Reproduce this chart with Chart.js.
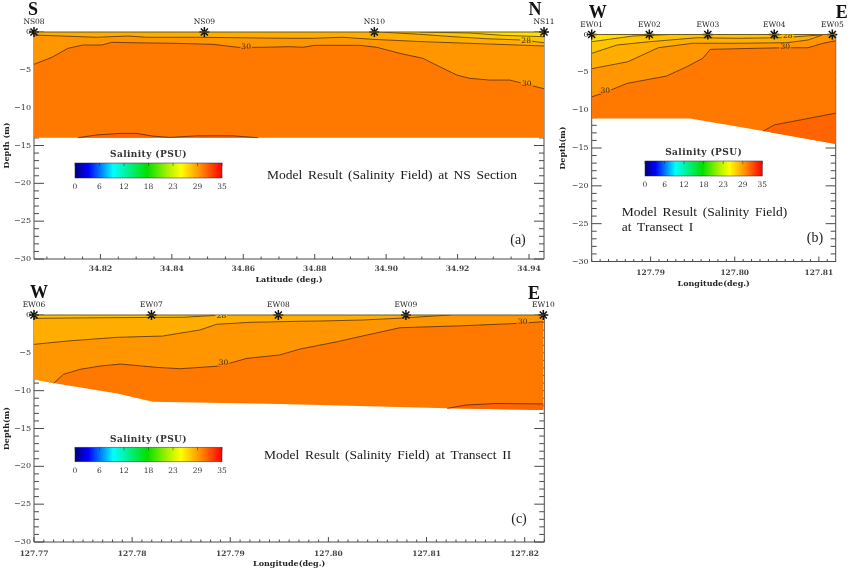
<!DOCTYPE html>
<html>
<head>
<meta charset="utf-8">
<title>Salinity sections</title>
<script src="https://cdn.jsdelivr.net/npm/chart.js@4/dist/chart.umd.min.js"></script>
<style>
    html, body { margin: 0; padding: 0; background: #fff; }
    canvas { position: absolute; }
</style>
</head>
<body>
<canvas id="panelA" width="570" height="285" style="left:0;top:0"></canvas>
<canvas id="panelB" width="296" height="290" style="left:556px;top:0"></canvas>
<canvas id="panelC" width="570" height="289" style="left:0;top:285px"></canvas>
<script>
// Colour scale
var barTicks = [0, 6, 12, 18, 23, 29, 35];

// NS section
var nsStations = ['NS08', 'NS09', 'NS10', 'NS11'];
var nsStationLat = [34.8014, 34.8491, 34.8967, 34.9442];
var nsTicks = [34.82, 34.84, 34.86, 34.88, 34.90, 34.92, 34.94];
var nsFloor = [[34.8014, -13.96], [34.9442, -13.96]];
var nsDeep = [[34.8137, -13.97], [34.8190, -13.6], [34.8255, -13.4], [34.8302, -13.4], [34.8347, -13.76], [34.8395, -13.93], [34.8470, -13.72], [34.8571, -13.72], [34.8641, -13.97]];
var ns30 = [[34.8014, -4.27], [34.8064, -3.35], [34.8109, -2.16], [34.8151, -1.72], [34.8204, -1.72], [34.8232, -1.36], [34.8291, -1.42], [34.8403, -1.49], [34.8515, -1.63], [34.8585, -2.02], [34.8655, -2.02], [34.8730, -1.94], [34.8767, -2.02], [34.8800, -1.76], [34.8926, -1.76], [34.8974, -2.02], [34.9038, -2.82], [34.9103, -3.48], [34.9150, -4.59], [34.9198, -5.69], [34.9234, -6.12], [34.9290, -6.35], [34.9346, -6.35], [34.9383, -6.79], [34.9442, -7.5]];
var nsUpper = [[34.8014, -0.4], [34.8190, -0.7], [34.8277, -0.53], [34.8330, -0.7], [34.8478, -0.7], [34.8722, -0.83], [34.8795, -0.83], [34.8879, -0.7], [34.8963, -0.97], [34.9103, -1.28], [34.9290, -1.59], [34.9442, -1.85]];
var ns28 = [[34.8982, 0], [34.9094, -0.3], [34.9187, -0.62], [34.9282, -0.89], [34.9382, -1.06], [34.9442, -1.42]];
var ns26 = [[34.9094, 0], [34.9234, -0.13], [34.9326, -0.44], [34.9442, -0.62]];
var nsLabels = [[34.8608, -1.95, '30'], [34.9394, -6.9, '30'], [34.9392, -1.15, '28']];

// Transect I
var ew1Stations = ['EW01', 'EW02', 'EW03', 'EW04', 'EW05'];
var ew1StationLon = [127.7830, 127.78985, 127.7968, 127.8047, 127.8116];
var ew1Ticks = [127.79, 127.80, 127.81];
var ew1Floor = [[127.7830, -11.09], [127.7947, -11.09], [127.8034, -12.76], [127.8120, -14.48]];
var ew1Deep = [[127.8034, -12.76], [127.8047, -11.95], [127.8120, -10.4]];
var ew130 = [[127.7830, -8.23], [127.7843, -7.78], [127.7872, -6.46], [127.7919, -5.49], [127.7943, -4.26], [127.7962, -3.15], [127.7971, -1.96], [127.8003, -1.88], [127.8057, -1.75], [127.8087, -1.75], [127.8105, -1.16], [127.8120, -0.82]];
var ew1Mid = [[127.7830, -4.52], [127.7873, -3.6], [127.7909, -1.75], [127.7950, -1.16], [127.8003, -1.16], [127.8062, -1.08], [127.8087, -0.73], [127.8104, -0.07]];
var ew1Upper = [[127.7830, -2.49], [127.7860, -1.39], [127.7899, -0.95], [127.7956, -0.42], [127.8003, -0.5], [127.8057, -0.42], [127.8101, -0.07]];
var ew1Top = [[127.7830, -0.95], [127.7879, -0.2], [127.7923, 0]];
var ew1Labels = [[127.7846, -7.45, '30'], [127.8060, -1.7, '30'], [127.8063, -0.2, '28']];

// Transect II
var ew2Stations = ['EW06', 'EW07', 'EW08', 'EW09', 'EW10'];
var ew2StationLon = [127.7700, 127.78197, 127.7949, 127.8079, 127.8219];
var ew2Ticks = [127.77, 127.78, 127.79, 127.80, 127.81, 127.82];
var ew2Floor = [[127.7700, -8.5], [127.7721, -9.03], [127.7785, -10.36], [127.7821, -11.47], [127.7951, -11.77], [127.8121, -12.34], [127.8219, -12.57]];
var ew2Deep = [[127.8121, -12.34], [127.8140, -11.9], [127.8170, -11.7], [127.8219, -11.75]];
var ew230 = [[127.7720, -9.03], [127.7730, -7.84], [127.7747, -7.18], [127.7767, -6.75], [127.7788, -6.48], [127.7825, -6.92], [127.7849, -7.1], [127.7889, -6.75], [127.7917, -5.73], [127.7950, -5.29], [127.7971, -4.5], [127.8009, -3.53], [127.8039, -2.65], [127.8073, -1.68], [127.8137, -1.42], [127.8195, -1.1], [127.8219, -0.89]];
var ew2Mid = [[127.7700, -3.88], [127.7734, -3.44], [127.7785, -2.95], [127.7831, -2.78], [127.7869, -1.98], [127.7886, -1.23], [127.7920, -0.97], [127.7971, -0.83], [127.7994, -0.79], [127.8035, -0.66], [127.8070, -0.44], [127.8124, 0]];
var ew2Upper = [[127.7700, -0.44], [127.7767, -0.36], [127.7852, -0.3], [127.7892, 0]];
var ew2Labels = [[127.7893, -6.4, '30'], [127.8198, -0.89, '30'], [127.7891, -0.1, '28']];

var SERIF = '"DejaVu Serif", serif';
var TEXT_SERIF = '"Liberation Serif", serif';
var AXIS_COLOR = '#4a4a4a';
var LINE_COLOR = 'rgba(50, 30, 0, 0.85)';
var RAMP = [[0, '#00007f'], [0.09, '#0000ff'], [0.26, '#00ffff'], [0.49, '#00e000'], [0.62, '#a0f000'], [0.72, '#ffff00'], [0.85, '#ff9000'], [1, '#ff0000']];
var DEEP = '#ff7800', MID = '#ff9600', AMBER = '#ffae00', GOLD = '#ffc400', YELLOW = '#ffe000', DARK = '#ff6400';
var LABEL_PATCH = { '30': [MID, DEEP], '28': [GOLD, AMBER] };

function pts(list) {
    return list.map(function (p) { return { x: p[0], y: p[1] }; });
}

function contour(list, color) {
    return { data: pts(list), borderColor: LINE_COLOR, borderWidth: 0.8, backgroundColor: color || 'transparent', fill: color ? { value: 0 } : false, pointRadius: 0 };
}

function shape(list, color) {
    return { data: pts(list), borderWidth: 0, borderColor: color, backgroundColor: color, fill: 'shape', pointRadius: 0 };
}

function text(ctx, str, x, y, font, color, align) {
    ctx.font = font;
    ctx.fillStyle = color || '#222';
    ctx.textAlign = align || 'center';
    ctx.textBaseline = 'middle';
    ctx.fillText(str, x, y);
}

var panelPlugin = {
    id: 'panelPlugin',
    beforeDatasetsDraw: function (chart, args, o) {
        var ctx = chart.ctx, a = chart.chartArea, xs = chart.scales.x, ys = chart.scales.y, v, p, len;
        ctx.save();
        ctx.strokeStyle = AXIS_COLOR;
        ctx.lineWidth = 1;
        ctx.beginPath();
        ctx.moveTo(a.left, a.top);
        ctx.lineTo(a.left, a.bottom);
        ctx.lineTo(a.right, a.bottom);
        ctx.lineTo(a.right, a.top);
        // minor and major ticks point into the plot
        for (v = 0; v >= -30; v--) {
            p = ys.getPixelForValue(v);
            len = v % 5 === 0 ? 10 : 5;
            ctx.moveTo(a.left, p);
            ctx.lineTo(a.left + len, p);
            ctx.moveTo(a.right, p);
            ctx.lineTo(a.right - len, p);
        }
        var first = o.xTicks[0], n = Math.round(o.xMajor / o.xMinor);
        for (var i = -n; ; i++) {
            v = first + i * o.xMinor;
            if (v > xs.max) break;
            if (v < xs.min) continue;
            p = xs.getPixelForValue(v);
            len = (i + n * 10) % n === 0 ? 5 : 2.5;
            ctx.moveTo(p, a.bottom);
            ctx.lineTo(p, a.bottom - len);
        }
        ctx.stroke();
        ctx.restore();
    },
    afterDatasetsDraw: function (chart, args, o) {
        var ctx = chart.ctx, a = chart.chartArea, xs = chart.scales.x, ys = chart.scales.y;
        ctx.save();
        ctx.strokeStyle = '#6a5a20';
        ctx.lineWidth = 1;
        ctx.beginPath();
        ctx.moveTo(a.left, a.top);
        ctx.lineTo(a.right, a.top);
        ctx.stroke();

        // contour labels break the line, and get cut at the surface like the original
        ctx.save();
        ctx.beginPath();
        ctx.rect(a.left, a.top, a.right - a.left, a.bottom - a.top);
        ctx.clip();
        o.labels.forEach(function (l) {
            var x = xs.getPixelForValue(l[0]), y = ys.getPixelForValue(l[1]), patch = LABEL_PATCH[l[2]];
            ctx.fillStyle = patch[0];
            ctx.fillRect(x - 6, y - 3, 12, 3);
            ctx.fillStyle = patch[1];
            ctx.fillRect(x - 6, y, 12, 3);
            text(ctx, l[2], x, y, '7.5px ' + SERIF, '#3a2a00');
        });
        ctx.restore();

        // station names above the star markers
        o.stations.forEach(function (s, i) {
            text(ctx, s, xs.getPixelForValue(o.stationX[i]), a.top - 9.5, '7.5px ' + SERIF, '#222');
        });

        o.heads.forEach(function (h) {
            text(ctx, h[0], h[1], h[2], 'bold 18px ' + TEXT_SERIF, '#111');
        });

        // colour bar
        var b = o.bar, g = ctx.createLinearGradient(b.x, 0, b.x + b.w, 0);
        RAMP.forEach(function (r) { g.addColorStop(r[0], r[1]); });
        ctx.fillStyle = g;
        ctx.fillRect(b.x, b.y, b.w, b.h);
        ctx.strokeStyle = 'rgba(40, 40, 40, 0.7)';
        ctx.lineWidth = 0.7;
        ctx.strokeRect(b.x, b.y, b.w, b.h);
        ctx.beginPath();
        barTicks.forEach(function (t, i) {
            var px = b.x + b.w * i / (barTicks.length - 1);
            ctx.moveTo(px, b.y);
            ctx.lineTo(px, b.y + 3);
            text(ctx, String(t), px, b.y + b.h + 9, '7.5px ' + SERIF, '#333');
        });
        ctx.stroke();
        ctx.letterSpacing = '0.4px';
        text(ctx, 'Salinity (PSU)', b.x + b.w / 2, b.y - 8, 'bold 9px ' + SERIF, '#333');
        ctx.letterSpacing = '0px';

        o.notes.forEach(function (t) {
            ctx.wordSpacing = '2.3px';
            text(ctx, t[0], t[1], t[2], '13.5px ' + TEXT_SERIF, '#1a1a1a', 'left');
            ctx.wordSpacing = '0px';
        });
        text(ctx, o.tag[0], o.tag[1], o.tag[2], '14px ' + TEXT_SERIF, '#1a1a1a');
        ctx.restore();
    }
};

function makePanel(id, cfg) {
    var starData = cfg.stationX.map(function (x) { return { x: x, y: 0 }; });
    var stars = { data: starData, showLine: false, pointStyle: 'star', pointRadius: 5, pointBorderWidth: 1.5, pointBorderColor: '#111', pointBackgroundColor: '#111', clip: false };
    var canvas = document.getElementById(id);
    new Chart(canvas, {
        type: 'line',
        plugins: [panelPlugin],
        data: { datasets: cfg.bands.concat([stars]).reverse() },  // first dataset is painted last
        options: {
            responsive: false,
            animation: false,
            layout: { padding: { top: cfg.top, right: cfg.right } },
            elements: { line: { tension: 0 } },
            plugins: {
                legend: { display: false },
                tooltip: { enabled: false },
                panelPlugin: {
                    xTicks: cfg.xTicks, xMajor: cfg.xMajor, xMinor: cfg.xMinor,
                    labels: cfg.labels,
                    stations: cfg.stations, stationX: cfg.stationX,
                    heads: cfg.heads, bar: cfg.bar, notes: cfg.notes, tag: cfg.tag
                }
            },
            scales: {
                x: {
                    type: 'linear',
                    min: cfg.xMin,
                    max: cfg.xMax,
                    grid: { display: false, drawTicks: false },
                    border: { display: false },
                    afterBuildTicks: function (s) { s.ticks = cfg.xTicks.map(function (v) { return { value: v }; }); },
                    afterFit: function (s) { s.height = cfg.bottom; },
                    ticks: {
                        autoSkip: false, maxRotation: 0, padding: cfg.tickPad, color: '#444',
                        font: { family: SERIF, size: 7.5, weight: 'bold' },
                        callback: function (v) { return v.toFixed(cfg.xDigits); }
                    },
                    title: { display: true, text: cfg.xTitle, color: '#222', padding: { top: 2, bottom: cfg.titlePad }, font: { family: SERIF, size: 8, weight: 'bold' } }
                },
                y: {
                    min: -30,
                    max: 0,
                    grid: { display: false, drawTicks: false },
                    border: { display: false },
                    afterFit: function (s) { s.width = cfg.left; },
                    ticks: {
                        stepSize: 1, autoSkip: false, padding: 3, color: '#333',
                        font: { family: SERIF, size: 8 },
                        callback: function (v) {
                            if (v % 5 !== 0) return '';
                            return v < 0 ? '\u2212' + (-v) : '0';
                        }
                    },
                    title: { display: true, text: cfg.yTitle, color: '#222', padding: { top: 2, bottom: 0 }, font: { family: SERIF, size: 8, weight: 'bold' } }
                }
            }
        }
    });
}

makePanel('panelA', {
    left: 34, top: 32, right: 26, bottom: 26, titlePad: 0, tickPad: 6,
    xMin: 34.8014, xMax: 34.9442, xTicks: nsTicks, xMajor: 0.02, xMinor: 0.005, xDigits: 2,
    xTitle: 'Latitude (deg.)', yTitle: 'Depth (m)',
    stations: nsStations, stationX: nsStationLat,
    labels: nsLabels,
    heads: [['S', 33, 10], ['N', 535, 10]],
    bar: { x: 75, y: 163, w: 147, h: 15 },
    notes: [['Model Result (Salinity Field) at NS Section', 267, 175]],
    tag: ['(a)', 518, 240],
    bands: [
        shape([[nsFloor[0][0], 0], [nsFloor[1][0], 0]].concat(nsFloor.slice().reverse()), DEEP),
        shape(nsDeep, DARK),
        contour(nsDeep),
        contour(ns30, MID),
        contour(nsUpper, AMBER),
        contour(ns28, GOLD),
        contour(ns26, YELLOW)
    ]
});

makePanel('panelB', {
    left: 35.7, top: 34.5, right: 16.3, bottom: 28.5, titlePad: 1.5, tickPad: 7.5,
    xMin: 127.783, xMax: 127.812, xTicks: ew1Ticks, xMajor: 0.01, xMinor: 0.001, xDigits: 2,
    xTitle: 'Longitude(deg.)', yTitle: 'Depth(m)',
    stations: ew1Stations, stationX: ew1StationLon,
    labels: ew1Labels,
    heads: [['W', 41.7, 13], ['E', 285.7, 13]],
    bar: { x: 89, y: 161, w: 117.3, h: 15 },
    notes: [['Model Result (Salinity Field)', 65.7, 212.7], ['at Transect I', 65.7, 227.7]],
    tag: ['(b)', 259, 238],
    bands: [
        shape([[ew1Floor[0][0], 0], [ew1Floor[3][0], 0]].concat(ew1Floor.slice().reverse()), DEEP),
        shape(ew1Deep.concat(ew1Floor.slice(3).concat(ew1Floor.slice(2, 3))), DARK),
        contour(ew1Deep),
        contour(ew130, MID),
        contour(ew1Mid, AMBER),
        contour(ew1Upper, GOLD),
        contour(ew1Top, YELLOW)
    ]
});

makePanel('panelC', {
    left: 34, top: 30, right: 25.7, bottom: 32, titlePad: 5, tickPad: 8,
    xMin: 127.77, xMax: 127.822, xTicks: ew2Ticks, xMajor: 0.01, xMinor: 0.001, xDigits: 2,
    xTitle: 'Longitude(deg.)', yTitle: 'Depth(m)',
    stations: ew2Stations, stationX: ew2StationLon,
    labels: ew2Labels,
    heads: [['W', 39, 8], ['E', 534, 9]],
    bar: { x: 75, y: 162.3, w: 147, h: 14.4 },
    notes: [['Model Result (Salinity Field) at Transect II', 264, 170]],
    tag: ['(c)', 519, 234],
    bands: [
        shape([[ew2Floor[0][0], 0], [ew2Floor[6][0], 0]].concat(ew2Floor.slice().reverse()), DEEP),
        shape(ew2Deep.concat(ew2Floor.slice(5).reverse()), DARK),
        contour(ew2Deep),
        // the wedge left of where the 30 contour meets the bottom, reaching under the next band
        shape([[ew2Floor[0][0], 0], [ew230[1][0], 0], ew230[1], ew230[0], ew2Floor[0]], MID),
        contour(ew230, MID),
        contour(ew2Mid, AMBER),
        contour(ew2Upper, GOLD)
    ]
});
</script>
</body>
</html>
